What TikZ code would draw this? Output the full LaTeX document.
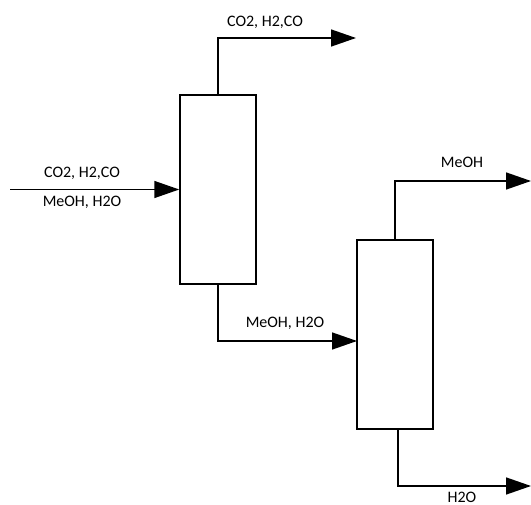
\documentclass[tikz,border=0pt]{standalone}
\usepackage{fontspec}
\setmainfont{Carlito}
\usetikzlibrary{arrows.meta}

\begin{document}
\begin{tikzpicture}[x=1pt, y=-1pt,
    every node/.style={font=\fontsize{16}{19}\selectfont},
    col/.style={rectangle, draw, line width=1.5pt, minimum width=76pt, minimum height=189pt, inner sep=0pt},
    lbl/.style={inner sep=0pt, anchor=center},
    arrow/.style={-{Triangle[length=25pt, width=17pt]}, line width=1.5pt}]

  \useasboundingbox (0,0) rectangle (531,505);

  % the two columns
  \node[col] (col1) at (218,189.5) {};
  \node[col] (col2) at (395,334.5) {};

  % free stream ends
  \coordinate (feed)  at (10,189.5);
  \coordinate (gas)   at (356,38);
  \coordinate (mid)   at (357,341);
  \coordinate (meoh)  at (531,181);
  \coordinate (water) at (531,486);

  \draw[arrow] (feed) -- (col1.west);
  \draw[arrow] (col1.north) |- (gas);
  \draw[arrow] (col1.south) |- (mid);
  \draw[arrow] (col2.north) |- (meoh);
  \draw[arrow] ([xshift=3pt]col2.south) |- (water);

  % stream labels
  \node[lbl] (feedtop) at (82,173) {CO2, H2,CO};
  \node[lbl] (feedbot) at (82,202) {MeOH, H2O};
  \node[lbl] (gaslbl)  at (265,22) {CO2, H2,CO};
  \node[lbl] (midlbl)  at (285,323) {MeOH, H2O};
  \node[lbl] (meohlbl) at (462,162) {MeOH};
  \node[lbl] (h2olbl)  at (462,497) {H2O};
\end{tikzpicture}
\end{document}
